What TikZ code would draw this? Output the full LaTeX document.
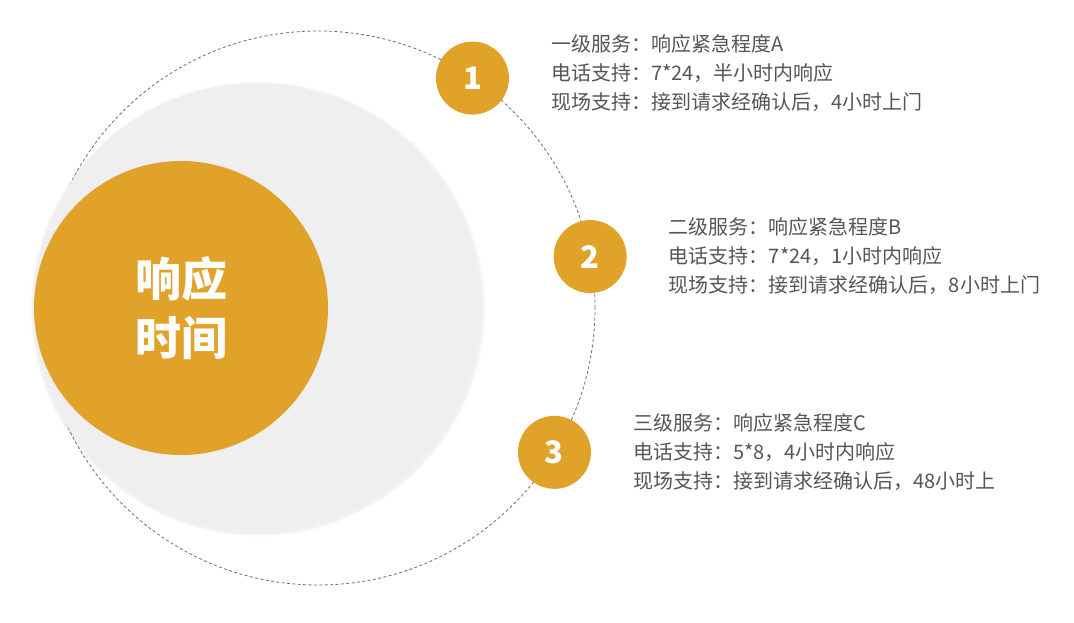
\documentclass[tikz,border=0pt]{standalone}
\usepackage{fontspec}
\setmainfont{Noto Sans CJK SC}
\usetikzlibrary{positioning}
\usetikzlibrary{calc}
\definecolor{amber}{RGB}{224,162,40}
\definecolor{pale}{RGB}{239,239,239}
\definecolor{ink}{RGB}{85,85,85}
\definecolor{orbit}{RGB}{110,110,110}

\begin{document}
\begin{tikzpicture}[x=0.5pt,y=0.5pt,
  badge/.style={circle,fill=amber,minimum size=36.5pt,inner sep=0pt,text=white,font=\fontsize{15.5}{15.5}\selectfont\bfseries},
  info/.style={right=20.75pt of #1,inner sep=0pt,align=left,text=ink,font=\fontsize{10}{14.5}\selectfont}]
\useasboundingbox (0,0) rectangle (1074,622);

\coordinate (O) at (318,314);

% dashed orbit
\draw[orbit, line width=0.4pt, dash pattern=on 1.5pt off 1.2pt] (O) circle [radius=277];

% soft shadow, grey disc
\foreach \r/\o in {228/0.012,226.5/0.018,225.5/0.025}
  \fill[black,opacity=\o] (258,313) circle [radius=\r];
\fill[pale] (257,315) circle [radius=224];

\node[circle,fill=amber,minimum size=147pt,inner sep=0pt,text=white,align=center,
  font=\fontsize{23}{29.5}\selectfont\bfseries] (core) at (181,314) {响应\\时间};

% levels
\node[badge] (n1) at ($(O)+(56.1:277)$) {1};
\node[badge] (n2) at ($(O)+(10.7:277)$) {2};
\node[badge] (n3) at ($(O)+(-31.4:277)$) {3};

\node[info=n1,yshift=2.75pt] (t1) {一级服务：响应紧急程度A\\电话支持：7*24，半小时内响应\\现场支持：接到请求经确认后，4小时上门};
\node[info=n2] (t2) {二级服务：响应紧急程度B\\电话支持：7*24，1小时内响应\\现场支持：接到请求经确认后，8小时上门};
\node[info=n3] (t3) {三级服务：响应紧急程度C\\电话支持：5*8，4小时内响应\\现场支持：接到请求经确认后，48小时上};

\end{tikzpicture}
\end{document}
